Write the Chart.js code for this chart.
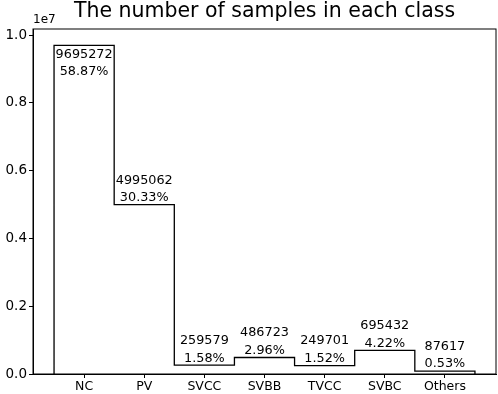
<!DOCTYPE html>
<html>
<head>
<meta charset="utf-8">
<script src="https://cdn.jsdelivr.net/npm/chart.js@4/dist/chart.umd.min.js"></script>
<style>
  html, body { margin: 0; padding: 0; background: #fff; }
  #wrap { width: 498px; height: 394px; }
</style>
</head>
<body>
<div id="wrap"><canvas id="histChart"></canvas></div>
<script>
// class counts
const classes = ['NC', 'PV', 'SVCC', 'SVBB', 'TVCC', 'SVBC', 'Others'];
const counts = [9695272, 4995062, 259579, 486723, 249701, 695432, 87617];
const yTicks = [0, 2e6, 4e6, 6e6, 8e6, 1e7];
const titleText = 'The number of samples in each class';

const FONT = "'DejaVu Sans', sans-serif";
const total = counts.reduce((a, b) => a + b, 0);

// step outline: left edge up, across each bin, right edge down
const stepPts = [{x: -0.5, y: 0}];
counts.forEach((v, i) => stepPts.push({x: i - 0.5, y: v}));
stepPts.push({x: counts.length - 0.5, y: counts[counts.length - 1]});
stepPts.push({x: counts.length - 0.5, y: 0});

const xPad = counts.length * 0.05;
const yMax = Math.max(...counts) * 1.05;

// count + percent text over each bin, title over the axes, 1e7 offset text
const labelPlugin = {
  id: 'labelPlugin',
  afterDraw(chart) {
    const ctx = chart.ctx;
    const xs = chart.scales.x, ys = chart.scales.y;
    const area = chart.chartArea;
    ctx.save();
    ctx.fillStyle = '#000';
    ctx.font = '12.8px ' + FONT;
    ctx.textAlign = 'center';
    ctx.textBaseline = 'middle';
    counts.forEach((v, i) => {
      const cx = xs.getPixelForValue(i);
      const top = ys.getPixelForValue(v);
      let y1 = top - 24.5, y2 = top - 7;
      if (y1 - 7 < area.top) { y1 = top + 9; y2 = top + 26.5; }
      ctx.fillText(String(v), cx, y1);
      ctx.fillText((v / total * 100).toFixed(2) + '%', cx, y2);
    });

    ctx.textBaseline = 'alphabetic';
    ctx.font = '20.5px ' + FONT;
    ctx.fillText(titleText, (area.left + area.right) / 2, 17);

    ctx.textAlign = 'left';
    ctx.textBaseline = 'middle';
    ctx.font = '12px ' + FONT;
    ctx.fillText('1e7', area.left, 20);

    ctx.strokeStyle = '#000';
    ctx.lineWidth = 1;
    ctx.strokeRect(area.left, area.top, area.right - area.left, area.bottom - area.top);
    ctx.restore();
  }
};

const chart = new Chart(document.getElementById('histChart'), {
  type: 'line',
  data: {
    datasets: [{
      data: stepPts,
      stepped: 'before',
      borderColor: '#000',
      borderWidth: 1.3,
      pointRadius: 0,
      fill: false
    }]
  },
  options: {
    responsive: true,
    maintainAspectRatio: false,
    animation: false,
    layout: { padding: { left: 0, right: 2, top: 29, bottom: 0 } },
    plugins: {
      legend: { display: false },
      tooltip: { enabled: false },
      title: { display: false }
    },
    scales: {
      x: {
        type: 'linear',
        min: -0.5 - xPad,
        max: counts.length - 0.5 + xPad,
        afterBuildTicks: (s) => { s.ticks = classes.map((c, i) => ({value: i})); },
        afterFit: (s) => { s.height = 20; },
        ticks: {
          color: '#000',
          font: { family: FONT, size: 12.5 },
          padding: 1,
          maxRotation: 0,
          autoSkip: false,
          callback: (val) => classes[val]
        },
        grid: { drawOnChartArea: false, color: '#000', tickLength: 4 },
        border: { color: '#000', width: 1 }
      },
      y: {
        min: 0,
        max: yMax,
        afterBuildTicks: (s) => { s.ticks = yTicks.map(v => ({value: v})); },
        afterFit: (s) => { s.width = 33; },
        ticks: {
          color: '#000',
          font: { family: FONT, size: 13.5 },
          padding: 2,
          callback: (val) => (val / 1e7).toFixed(1)
        },
        grid: { drawOnChartArea: false, color: '#000', tickLength: 4 },
        border: { color: '#000', width: 1 }
      }
    }
  },
  plugins: [labelPlugin]
});
</script>
</body>
</html>
